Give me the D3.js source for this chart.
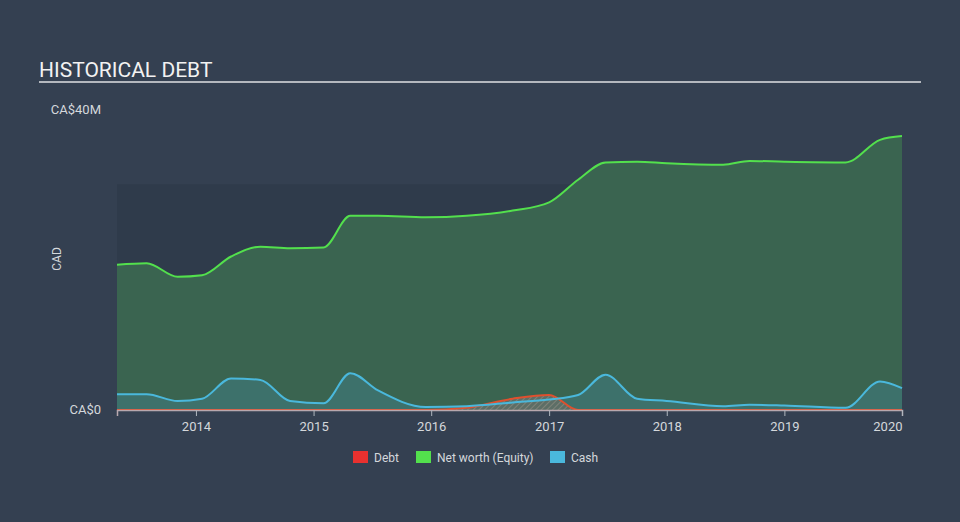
<!DOCTYPE html>
<html>
<head>
<meta charset="utf-8">
<script src="https://cdn.jsdelivr.net/npm/d3@7"></script>
<style>
  body { margin: 0; background: #344051; }
  svg { display: block; font-family: Roboto, "Noto Sans", sans-serif; }
</style>
</head>
<body>
<script>
// values in CA$ millions
var dates = ["2013-05-01","2013-08-01","2013-11-05","2014-01-20","2014-04-20","2014-07-20","2014-10-20",
             "2015-02-01","2015-04-25","2015-07-20","2015-12-15","2016-04-20","2016-09-10","2017-01-01",
             "2017-04-01","2017-06-25","2017-10-01","2018-01-01","2018-06-25","2018-09-15","2019-01-01",
             "2019-07-10","2019-10-25","2020-01-01"];
var equity = [19.3, 19.5, 17.7, 17.9, 20.4, 21.7, 21.5, 21.6, 25.8, 25.8, 25.6, 25.8, 26.5, 27.6,
              30.6, 32.9, 33.0, 32.8, 32.6, 33.1, 33.0, 32.9, 35.9, 36.4];
var cash =   [2.1, 2.1, 1.2, 1.5, 4.2, 4.0, 1.2, 0.9, 4.9, 2.6, 0.4, 0.5, 1.0, 1.4,
              2.0, 4.7, 1.5, 1.2, 0.5, 0.7, 0.6, 0.3, 3.8, 2.9];
var debt =   [0, 0, 0, 0, 0, 0, 0, 0, 0, 0, 0, 0.3, 1.5, 2.0,
              0, 0, 0, 0, 0, 0, 0, 0, 0, 0];
var yearTicks = ["2014","2015","2016","2017","2018","2019","2020"];
var legendNames = ["Debt", "Net worth (Equity)", "Cash"];
var legendColors = ["#e8312f", "#53e04d", "#4ab8dc"];

var w = 960, h = 522;
var parse = d3.timeParse("%Y-%m-%d");
var rows = dates.map(function(d, i) {
  return { date: parse(d), equity: equity[i], cash: cash[i], debt: debt[i] };
});

var svg = d3.select("body").append("svg").attr("width", w).attr("height", h);

var x = d3.scaleTime()
  .domain([parse("2013-05-01"), parse("2020-01-01")])
  .range([117, 902]);
var y = d3.scaleLinear().domain([0, 40]).range([410, 109]);

// title
svg.append("text").attr("x", 39).attr("y", 77)
  .attr("font-size", 21).attr("fill", "#f2f2f2").text("HISTORICAL DEBT");
svg.append("rect").attr("x", 39).attr("y", 81).attr("width", 882).attr("height", 2)
  .attr("fill", "#b4b8be");

// darker band 0 - 30M
svg.append("rect").attr("x", x.range()[0]).attr("y", y(30))
  .attr("width", x.range()[1] - x.range()[0]).attr("height", y(0) - y(30))
  .attr("fill", "#2f3b4b");

// hatch for debt
var defs = svg.append("defs");
var pat = defs.append("pattern").attr("id", "hatch").attr("patternUnits", "userSpaceOnUse")
  .attr("width", 4).attr("height", 4).attr("patternTransform", "rotate(45)");
pat.append("rect").attr("width", 4).attr("height", 4).attr("fill", "#5d6e66");
pat.append("line").attr("x1", 0).attr("y1", 0).attr("x2", 0).attr("y2", 4)
  .attr("stroke", "#8a8a80").attr("stroke-width", 1.5);

var curve = d3.curveMonotoneX;
function area(key) {
  return d3.area().curve(curve).x(function(d) { return x(d.date); })
    .y0(y(0)).y1(function(d) { return y(d[key]); });
}
function line(key) {
  return d3.line().curve(curve).x(function(d) { return x(d.date); })
    .y(function(d) { return y(d[key]); });
}

svg.append("path").datum(rows).attr("d", area("equity")).attr("fill", "#3a6450");
svg.append("path").datum(rows).attr("d", area("cash")).attr("fill", "#3d716b");
svg.append("path").datum(rows).attr("d", area("debt")).attr("fill", "url(#hatch)");

svg.append("path").datum(rows).attr("d", line("debt")).attr("fill", "none")
  .attr("stroke", "#e0502e").attr("stroke-width", 2);
svg.append("path").datum(rows).attr("d", line("equity")).attr("fill", "none")
  .attr("stroke", "#53e04d").attr("stroke-width", 2);
svg.append("path").datum(rows).attr("d", line("cash")).attr("fill", "none")
  .attr("stroke", "#4ab8dc").attr("stroke-width", 2);

// x axis
var xAxis = d3.axisBottom(x)
  .tickValues(yearTicks.map(function(t) { return d3.timeParse("%Y")(t); }))
  .tickFormat(d3.timeFormat("%Y")).tickSize(6).tickPadding(6);
var gx = svg.append("g").attr("transform", "translate(0," + y(0) + ")").call(xAxis);
gx.select(".domain").attr("stroke", "#b8a8ae").attr("stroke-width", 1.5);
gx.selectAll(".tick line").attr("stroke", "#b0b6be");
gx.selectAll(".tick text").attr("fill", "#d4d8dc").attr("font-size", 13)
  .attr("font-family", "Roboto, sans-serif");
gx.selectAll(".tick text").filter(function(d, i) { return i === yearTicks.length - 1; })
  .attr("text-anchor", "end");

// y labels
svg.append("text").attr("x", 101).attr("y", 114).attr("text-anchor", "end")
  .attr("font-size", 13).attr("fill", "#d4d8dc").text("CA$40M");
svg.append("text").attr("x", 101).attr("y", 414).attr("text-anchor", "end")
  .attr("font-size", 13).attr("fill", "#d4d8dc").text("CA$0");
svg.append("text").attr("transform", "translate(61,259) rotate(-90)").attr("text-anchor", "middle")
  .attr("font-size", 12).attr("fill", "#d4d8dc").text("CAD");

// legend
var legendX = [353, 416, 550];
var lg = svg.selectAll(".lg").data(legendNames).enter().append("g")
  .attr("transform", function(d, i) { return "translate(" + legendX[i] + ",451)"; });
lg.append("rect").attr("width", 15).attr("height", 12)
  .attr("fill", function(d, i) { return legendColors[i]; });
lg.append("text").attr("x", 21).attr("y", 11).attr("font-size", 12)
  .attr("fill", "#d4d8dc").text(function(d) { return d; });
</script>
</body>
</html>
